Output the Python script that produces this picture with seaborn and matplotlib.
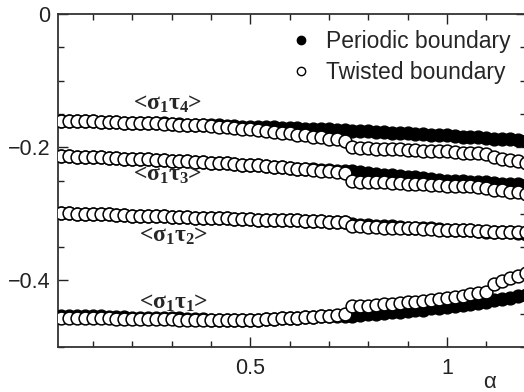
import numpy as np
import pandas as pd
import matplotlib
matplotlib.use("Agg")
import matplotlib.pyplot as plt
import seaborn as sns
from matplotlib.lines import Line2D
from matplotlib.ticker import MultipleLocator, FuncFormatter

sns.set_theme(style="ticks")
plt.rcParams['font.family'] = ['Liberation Sans', 'DejaVu Sans']
plt.rcParams['mathtext.fontset'] = 'custom'
plt.rcParams['mathtext.rm'] = 'Liberation Serif:bold'
plt.rcParams['mathtext.it'] = 'Liberation Serif:bold'
plt.rcParams['mathtext.bf'] = 'Liberation Serif:bold'

# alpha grid (x values)
alpha = [0.02, 0.04, 0.06, 0.08, 0.10, 0.12, 0.14, 0.16, 0.18, 0.20,
         0.22, 0.24, 0.26, 0.28, 0.30, 0.32, 0.34, 0.36, 0.38, 0.40,
         0.42, 0.44, 0.46, 0.48, 0.50, 0.52, 0.54, 0.56, 0.58, 0.60,
         0.62, 0.64, 0.66, 0.68, 0.70, 0.72, 0.74, 0.76, 0.78, 0.80,
         0.82, 0.84, 0.86, 0.88, 0.90, 0.92, 0.94, 0.96, 0.98, 1.00,
         1.02, 1.04, 1.06, 1.08, 1.10, 1.12, 1.14, 1.16, 1.18, 1.20]

# periodic boundary (filled)
per_t4 = [-0.160, -0.160, -0.161, -0.161, -0.161, -0.162, -0.162, -0.162, -0.163, -0.163,
          -0.163, -0.164, -0.164, -0.164, -0.165, -0.165, -0.166, -0.166, -0.166, -0.167,
          -0.167, -0.168, -0.168, -0.169, -0.169, -0.169, -0.170, -0.170, -0.171, -0.171,
          -0.171, -0.172, -0.172, -0.173, -0.173, -0.174, -0.174, -0.175, -0.175, -0.176,
          -0.177, -0.177, -0.178, -0.178, -0.179, -0.180, -0.180, -0.181, -0.182, -0.182,
          -0.183, -0.184, -0.184, -0.185, -0.186, -0.187, -0.187, -0.188, -0.189, -0.190]
per_t3 = [-0.213, -0.213, -0.214, -0.214, -0.215, -0.215, -0.216, -0.216, -0.217, -0.217,
          -0.218, -0.218, -0.219, -0.219, -0.220, -0.221, -0.221, -0.222, -0.222, -0.223,
          -0.224, -0.224, -0.225, -0.226, -0.227, -0.227, -0.228, -0.229, -0.230, -0.231,
          -0.232, -0.233, -0.233, -0.234, -0.234, -0.235, -0.235, -0.236, -0.237, -0.238,
          -0.240, -0.241, -0.242, -0.243, -0.244, -0.245, -0.246, -0.247, -0.249, -0.250,
          -0.251, -0.251, -0.252, -0.253, -0.253, -0.254, -0.255, -0.255, -0.256, -0.257]
per_t2 = [-0.299, -0.299, -0.300, -0.300, -0.301, -0.301, -0.301, -0.302, -0.302, -0.303,
          -0.303, -0.303, -0.304, -0.304, -0.305, -0.305, -0.305, -0.306, -0.306, -0.307,
          -0.307, -0.307, -0.308, -0.308, -0.308, -0.309, -0.309, -0.309, -0.310, -0.310,
          -0.310, -0.311, -0.311, -0.311, -0.312, -0.312, -0.312, -0.316, -0.317, -0.317,
          -0.318, -0.319, -0.319, -0.320, -0.321, -0.321, -0.322, -0.322, -0.323, -0.324,
          -0.324, -0.325, -0.325, -0.326, -0.327, -0.327, -0.328, -0.328, -0.329, -0.330]
per_t1 = [-0.453, -0.453, -0.453, -0.454, -0.454, -0.454, -0.455, -0.455, -0.455, -0.456,
          -0.456, -0.456, -0.456, -0.457, -0.457, -0.457, -0.458, -0.458, -0.458, -0.459,
          -0.459, -0.459, -0.459, -0.459, -0.459, -0.459, -0.458, -0.458, -0.457, -0.457,
          -0.456, -0.455, -0.455, -0.454, -0.453, -0.453, -0.453, -0.453, -0.452, -0.451,
          -0.450, -0.449, -0.448, -0.447, -0.446, -0.445, -0.444, -0.442, -0.441, -0.440,
          -0.438, -0.437, -0.435, -0.434, -0.432, -0.430, -0.428, -0.426, -0.424, -0.422]

# twisted boundary (open)
tw_t4 = [-0.160, -0.160, -0.161, -0.161, -0.161, -0.162, -0.162, -0.162, -0.163, -0.163,
         -0.163, -0.164, -0.164, -0.165, -0.165, -0.166, -0.166, -0.167, -0.167, -0.168,
         -0.169, -0.170, -0.171, -0.172, -0.173, -0.174, -0.175, -0.177, -0.178, -0.179,
         -0.181, -0.182, -0.184, -0.185, -0.187, -0.188, -0.190, -0.200, -0.201, -0.201,
         -0.202, -0.202, -0.203, -0.203, -0.204, -0.204, -0.205, -0.205, -0.206, -0.206,
         -0.207, -0.208, -0.208, -0.209, -0.210, -0.215, -0.217, -0.219, -0.221, -0.223]
tw_t3 = [-0.213, -0.213, -0.214, -0.214, -0.215, -0.215, -0.216, -0.216, -0.217, -0.217,
         -0.218, -0.218, -0.219, -0.219, -0.220, -0.221, -0.221, -0.222, -0.222, -0.223,
         -0.224, -0.224, -0.225, -0.226, -0.227, -0.227, -0.228, -0.229, -0.230, -0.231,
         -0.232, -0.233, -0.234, -0.235, -0.236, -0.237, -0.239, -0.251, -0.252, -0.252,
         -0.253, -0.253, -0.254, -0.254, -0.255, -0.256, -0.256, -0.257, -0.257, -0.258,
         -0.258, -0.259, -0.259, -0.260, -0.261, -0.264, -0.265, -0.267, -0.268, -0.270]
tw_t2 = [-0.299, -0.299, -0.300, -0.300, -0.301, -0.301, -0.301, -0.302, -0.302, -0.303,
         -0.303, -0.303, -0.304, -0.304, -0.305, -0.305, -0.305, -0.306, -0.306, -0.307,
         -0.307, -0.307, -0.308, -0.308, -0.308, -0.309, -0.309, -0.309, -0.310, -0.310,
         -0.310, -0.311, -0.311, -0.311, -0.312, -0.312, -0.312, -0.319, -0.319, -0.320,
         -0.320, -0.321, -0.321, -0.322, -0.322, -0.322, -0.323, -0.323, -0.324, -0.324,
         -0.325, -0.325, -0.325, -0.326, -0.326, -0.327, -0.327, -0.327, -0.328, -0.328]
tw_t1 = [-0.456, -0.456, -0.457, -0.457, -0.457, -0.457, -0.457, -0.458, -0.458, -0.458,
         -0.458, -0.458, -0.458, -0.458, -0.458, -0.459, -0.459, -0.459, -0.459, -0.459,
         -0.459, -0.459, -0.459, -0.459, -0.459, -0.459, -0.458, -0.458, -0.457, -0.457,
         -0.456, -0.455, -0.455, -0.454, -0.453, -0.452, -0.451, -0.439, -0.438, -0.438,
         -0.437, -0.436, -0.435, -0.434, -0.433, -0.432, -0.431, -0.429, -0.428, -0.426,
         -0.425, -0.423, -0.421, -0.419, -0.417, -0.405, -0.401, -0.397, -0.393, -0.389]

curve_labels = [r'<$\sigma_1\tau_4$>', r'<$\sigma_1\tau_3$>',
                r'<$\sigma_1\tau_2$>', r'<$\sigma_1\tau_1$>']

fig = plt.figure(figsize=(5.24, 3.92), dpi=100)
ax = fig.add_axes([57.5 / 524, 45 / 392, 468 / 524, 333 / 392])

# filled first, open circles drawn on top
for vals in [per_t4, per_t3, per_t2, per_t1]:
    sns.scatterplot(x=alpha, y=vals, ax=ax, s=85, color='black',
                    edgecolor='black', linewidth=1.0, zorder=3, legend=False)
for vals in [tw_t4, tw_t3, tw_t2, tw_t1]:
    sns.scatterplot(x=alpha, y=vals, ax=ax, s=85, color='white',
                    edgecolor='black', linewidth=1.1, zorder=4, legend=False)

ax.set_xlim(0.01, 1.2)
ax.set_ylim(-0.5, 0)

ax.xaxis.set_major_locator(MultipleLocator(0.5))
ax.xaxis.set_minor_locator(MultipleLocator(0.1))
ax.yaxis.set_major_locator(MultipleLocator(0.2))
ax.yaxis.set_minor_locator(MultipleLocator(0.05))
fmt = FuncFormatter(lambda v, p: f'{v:g}'.replace('-', '\u2212'))
ax.xaxis.set_major_formatter(fmt)
ax.yaxis.set_major_formatter(fmt)

ax.tick_params(which='both', direction='in', top=True, right=True,
               labelsize=15.5, colors='#222222', width=1.0)
ax.tick_params(which='major', length=7)
ax.tick_params(axis='x', which='major', pad=8)
ax.tick_params(axis='y', which='major', pad=5)
ax.tick_params(which='minor', length=4)
for sp in ax.spines.values():
    sp.set_linewidth(1.3)
    sp.set_color('#333333')
    sp.set_visible(True)

# curve labels
label_pos = [(0.29, -0.135), (0.29, -0.243), (0.305, -0.3345), (0.305, -0.435)]
for (lx, ly), lab in zip(label_pos, curve_labels):
    ax.text(lx, ly, lab, ha='center', va='center', fontsize=17,
            family='Liberation Serif', weight='bold', zorder=5)

fig.text(489 / 524, 1 - 382 / 392, 'α', ha='center', va='center', fontsize=16)

handles = [Line2D([], [], marker='o', ls='', color='black', mec='black', ms=6),
           Line2D([], [], marker='o', ls='', color='white', mec='black', mew=1.0, ms=6)]
ax.legend(handles, ['Periodic boundary', 'Twisted boundary'], loc='upper right',
          bbox_to_anchor=(0.993, 0.987), frameon=False, fontsize=16.5,
          handlelength=1.0, handletextpad=0.6, labelspacing=0.38, borderpad=0)

ax.set_xlabel('')
ax.set_ylabel('')
fig.savefig('out.png', dpi=100)
